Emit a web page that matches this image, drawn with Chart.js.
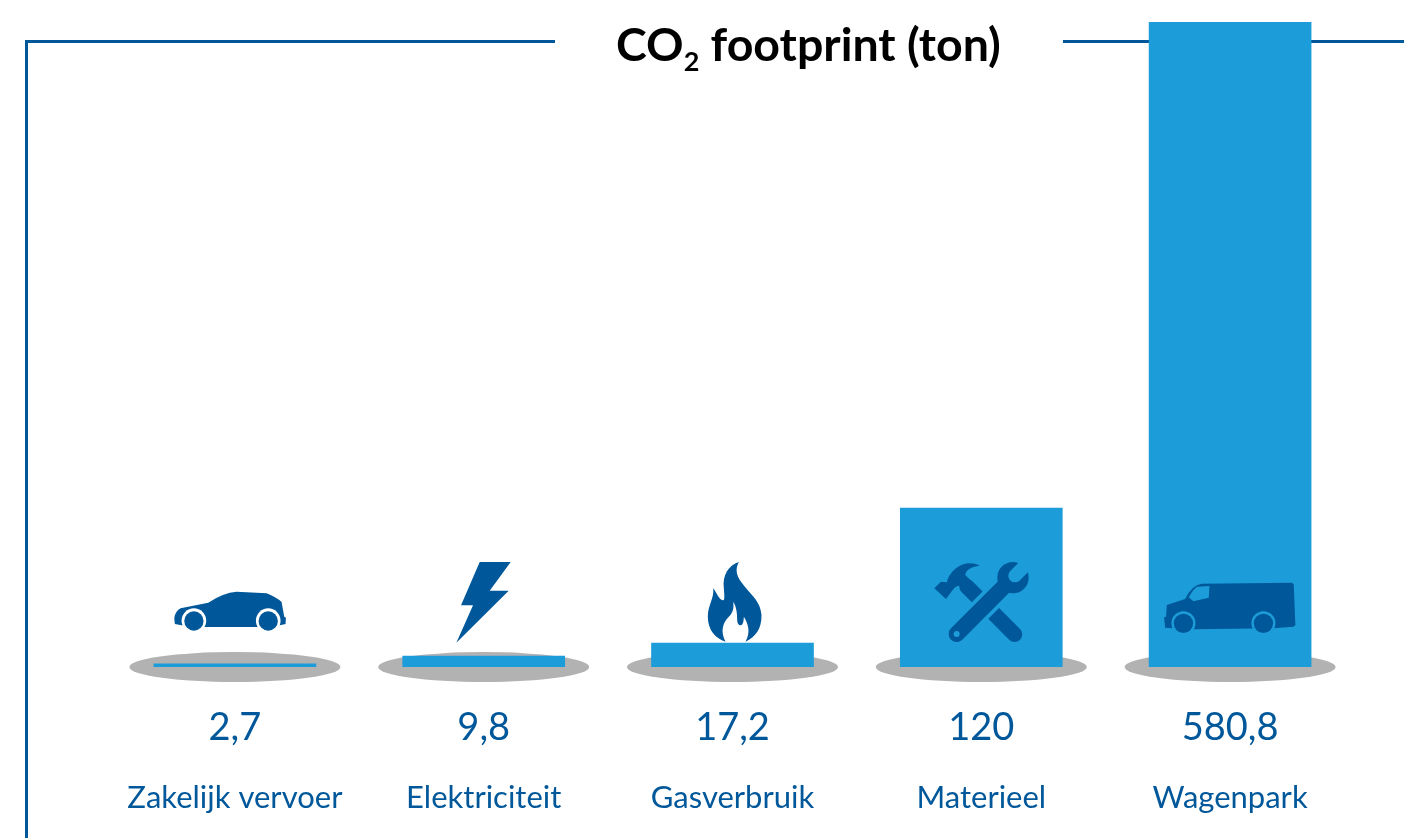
<!DOCTYPE html>
<html>
<head>
<meta charset="utf-8">
<title>CO2 footprint</title>
<script src="https://cdn.jsdelivr.net/npm/chart.js@4/dist/chart.umd.min.js"></script>
<style>
  html, body { margin: 0; padding: 0; background: #fff; overflow: hidden; }
  #wrap { position: relative; width: 1404px; height: 838px; }
  #title { position: absolute; left: 616px; top: 17px; margin: 0; font: 700 46.5px Lato, sans-serif; color: #000; line-height: 52px; white-space: nowrap; }
  #title sub { font-size: 27px; line-height: 0; vertical-align: -10px; }
</style>
</head>
<body>
<div id="wrap">
  <canvas id="co2Chart" width="1404" height="838"></canvas>
  <h1 id="title">CO<sub>2</sub> footprint (ton)</h1>
</div>
<script>
const categories = ['Zakelijk vervoer', 'Elektriciteit', 'Gasverbruik', 'Materieel', 'Wagenpark'];
const valueLabels = ['2,7', '9,8', '17,2', '120', '580,8'];
// bar lengths as drawn in the picture (17,2 and 120 are drawn longer than their printed number)
const barValues = [2.9, 9.9, 21.6, 143.2, 580.8];
const iconNames = ['car', 'bolt', 'flame', 'tools', 'van'];

const BAR = '#1c9cd8';
const DARK = '#00589a';

// icons are traced at 3x, origin = bar centre on the baseline
const ICONS = {
    car: (c) => {
        c.translate(-345, -351);
        c.fillStyle = DARK;
        c.fill(new Path2D('M163,205 Q165,185 182,175 L265,158 Q310,128 350,125 L440,130 Q470,142 485,156 L493,200 L498,203 L497,222 L480,226 L410,231 L255,231 L185,226 L165,222 Z'));
        [222, 445].forEach(x => {
            c.fillStyle = '#fff';
            c.beginPath(); c.arc(x, 212, 37, 0, Math.PI * 2); c.fill();
            c.fillStyle = DARK;
            c.beginPath(); c.arc(x, 213, 29, 0, Math.PI * 2); c.fill();
        });
    },
    bolt: (c) => {
        c.translate(-1092, -351);
        c.fillStyle = DARK;
        c.fill(new Path2D('M1080,36 L1173,36 L1110,122 L1167,122 L1010,278 L1060,166 L1024,166 Z'));
    },
    flame: (c) => {
        c.translate(-336, -501);
        c.fillStyle = DARK;
        c.fill(new Path2D('M355,186 C325,195 305,225 310,265 C311,280 313,295 310,300 C298,305 290,280 278,265 C282,295 262,315 262,350 C262,390 285,415 315,425 C300,395 305,370 325,350 C340,335 340,320 338,305 C348,320 350,340 350,360 C350,375 362,382 367,370 C369,365 370,355 370,350 C382,370 392,395 375,425 C405,412 424,385 423,345 C420,300 385,280 365,250 C345,225 345,205 355,186 Z'));
    },
    tools: (c) => {
        c.translate(-1083, -501);
        c.fillStyle = DARK;
        c.strokeStyle = DARK;
        c.lineCap = 'round';
        // hammer
        c.lineWidth = 46;
        c.beginPath(); c.moveTo(1040, 260); c.lineTo(1183, 403); c.stroke();
        c.fill(new Path2D('M942,265 L962,245 L980,247 C985,215 1030,172 1078,197 C1050,200 1035,212 1035,225 L1085,275 L1065,300 L1020,258 C1010,255 1000,265 990,280 L977,297 Z'));
        // wrench, with a gap where it crosses the hammer
        c.lineCap = 'butt';
        c.strokeStyle = BAR;
        c.lineWidth = 70;
        c.beginPath(); c.moveTo(1060, 351); c.lineTo(1125, 286); c.stroke();
        c.lineCap = 'round';
        c.strokeStyle = DARK;
        c.lineWidth = 48;
        c.beginPath(); c.moveTo(1009, 402); c.lineTo(1160, 251); c.stroke();
        c.beginPath(); c.arc(1178, 233, 47, 0, Math.PI * 2); c.fill();
        c.strokeStyle = BAR;
        c.lineWidth = 40;
        c.beginPath(); c.moveTo(1184, 227); c.lineTo(1225, 186); c.stroke();
        c.fillStyle = BAR;
        c.beginPath(); c.arc(1009, 402, 9, 0, Math.PI * 2); c.fill();
    },
    van: (c) => {
        c.translate(-360, -321);
        c.fillStyle = DARK;
        c.fill(new Path2D('M170,135 L225,117 Q245,75 275,71 L545,68 Q551,70 551,75 L555,175 L556,195 L550,200 L490,205 L250,208 L190,205 L165,203 L162,172 L168,170 Z'));
        c.fillStyle = BAR;
        c.fill(new Path2D('M262,80 L298,78 L296,113 L250,124 L236,112 Q250,85 262,80 Z'));
        [220, 460].forEach(x => {
            c.fillStyle = BAR;
            c.beginPath(); c.arc(x, 190, 36, 0, Math.PI * 2); c.fill();
            c.fillStyle = DARK;
            c.beginPath(); c.arc(x, 190, 29, 0, Math.PI * 2); c.fill();
        });
    }
};

// frame line + grey shadows go under the bars
const underBars = {
    id: 'underBars',
    beforeDatasetsDraw(chart) {
        const ctx = chart.ctx;
        const base = chart.scales.y.getPixelForValue(0);
        ctx.save();
        ctx.strokeStyle = DARK;
        ctx.lineWidth = 3;
        ctx.beginPath();
        ctx.moveTo(555, 41.5); ctx.lineTo(26.5, 41.5); ctx.lineTo(26.5, 838);
        ctx.moveTo(1063, 41.5); ctx.lineTo(1404, 41.5);
        ctx.stroke();
        ctx.fillStyle = '#b2b2b2';
        categories.forEach((cat, i) => {
            ctx.beginPath();
            ctx.ellipse(chart.scales.x.getPixelForValue(i), base, 105.5, 15, 0, 0, Math.PI * 2);
            ctx.fill();
        });
        ctx.restore();
    }
};

const barIcons = {
    id: 'barIcons',
    afterDatasetsDraw(chart) {
        const ctx = chart.ctx;
        const base = chart.scales.y.getPixelForValue(0);
        iconNames.forEach((name, i) => {
            ctx.save();
            ctx.translate(chart.scales.x.getPixelForValue(i), base);
            ctx.scale(1 / 3, 1 / 3);
            ICONS[name](ctx);
            ctx.restore();
        });
    }
};

new Chart(document.getElementById('co2Chart'), {
    type: 'bar',
    data: {
        labels: categories,
        datasets: [{
            label: 'CO2 footprint (ton)',
            data: barValues,
            backgroundColor: BAR,
            barThickness: 162
        }]
    },
    options: {
        responsive: false,
        animation: false,
        layout: { padding: { left: 110.5, right: 49.5, top: 22, bottom: 0 } },
        plugins: { legend: { display: false }, tooltip: { enabled: false } },
        scales: {
            y: { display: false, min: 0, max: 580.8 },
            x: {
                position: 'bottom',
                grid: { display: false },
                border: { display: false },
                afterFit: (s) => { s.height = 95; },
                ticks: {
                    autoSkip: false,
                    maxRotation: 0,
                    padding: 30,
                    color: DARK,
                    font: { family: 'Lato', size: 38 },
                    callback: (v, i) => valueLabels[i]
                }
            },
            x2: {
                type: 'category',
                labels: categories,
                offset: true,
                position: 'bottom',
                grid: { display: false },
                border: { display: false },
                afterFit: (s) => { s.height = 76; },
                ticks: {
                    autoSkip: false,
                    maxRotation: 0,
                    padding: 9,
                    color: DARK,
                    font: { family: 'Lato', size: 31 }
                }
            }
        }
    },
    plugins: [underBars, barIcons]
});
</script>
</body>
</html>
